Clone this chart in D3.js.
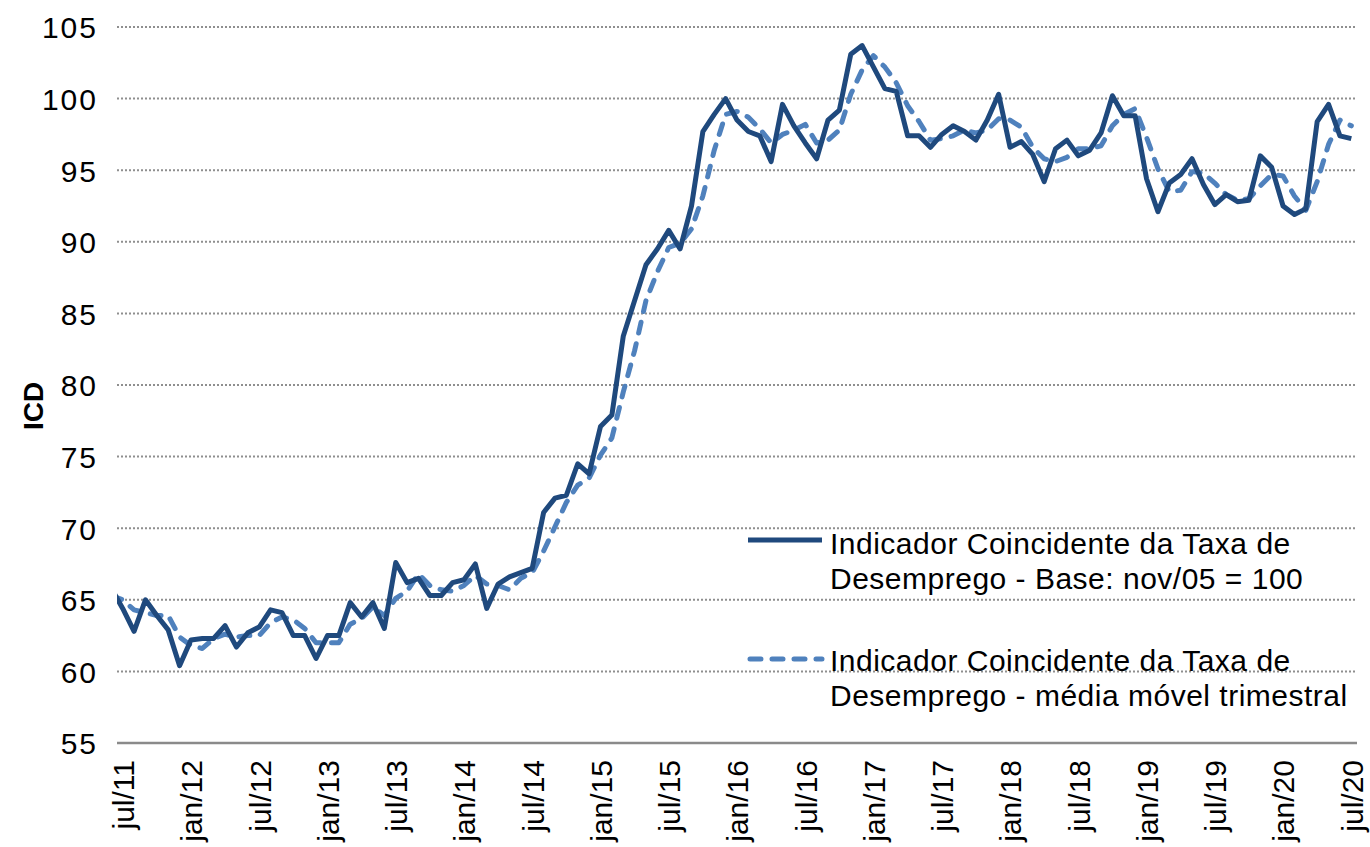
<!DOCTYPE html>
<html>
<head>
<meta charset="utf-8">
<script src="https://cdn.jsdelivr.net/npm/d3@7"></script>
<style>
	body { margin: 0; background: #ffffff; }
	svg { display: block; }
</style>
</head>
<body>
<svg id="chart" width="1370" height="847"></svg>
<script>
// monthly values, first entry is jun/11 (only a clipped stub of it shows at the left edge)
var icd = [
	65.8,
	64.4, 62.8, 65.0, 63.9, 62.9, 60.4, 62.2, 62.3, 62.3, 63.2, 61.7, 62.7,
	63.1, 64.3, 64.1, 62.5, 62.5, 60.9, 62.5, 62.5, 64.8, 63.8, 64.8, 63.0,
	67.6, 66.2, 66.5, 65.3, 65.3, 66.2, 66.4, 67.5, 64.4, 66.1, 66.6, 66.9,
	67.2, 71.1, 72.1, 72.3, 74.5, 73.8, 77.1, 77.9, 83.4, 85.9, 88.4, 89.5,
	90.8, 89.5, 92.5, 97.7, 98.9, 100.0, 98.5, 97.7, 97.4, 95.6, 99.6, 98.1,
	96.9, 95.8, 98.5, 99.2, 103.1, 103.7, 102.2, 100.7, 100.5, 97.4, 97.4, 96.6,
	97.5, 98.1, 97.7, 97.1, 98.5, 100.3, 96.6, 97.0, 96.1, 94.2, 96.5, 97.1,
	96.0, 96.4, 97.6, 100.2, 98.8, 98.8, 94.4, 92.1, 94.1, 94.7, 95.8, 94.0,
	92.6, 93.3, 92.8, 92.9, 96.0, 95.2, 92.5, 91.9, 92.3, 98.4, 99.6, 97.4,
	97.2
];

var icdMedia = [
	65.3,
	65.0, 64.3, 64.1, 63.9, 63.9, 62.4, 61.8, 61.6, 62.3, 62.6, 62.4, 62.5,
	62.5, 63.4, 63.8, 63.6, 63.0, 62.0, 62.0, 62.0, 63.3, 63.7, 64.5, 63.9,
	65.1, 65.6, 66.8, 66.0, 65.7, 65.6, 66.0, 66.7, 66.1, 66.0, 65.7, 66.5,
	66.9, 68.4, 70.1, 71.8, 73.0, 73.5, 75.1, 76.3, 79.5, 82.4, 85.9, 87.9,
	89.6, 89.9, 90.9, 93.2, 96.4, 98.9, 99.1, 98.7, 97.9, 96.9, 97.5, 97.8,
	98.2, 96.9, 97.1, 97.8, 100.3, 102.0, 103.0, 102.2, 101.1, 99.5, 98.4, 97.1,
	97.2, 97.4, 97.8, 97.6, 97.8, 98.6, 98.5, 98.0, 96.6, 95.8, 95.6, 95.9,
	96.5, 96.5, 96.7, 98.1, 98.9, 99.3, 97.3, 95.1, 93.5, 93.6, 94.9, 94.8,
	94.1, 93.3, 92.9, 93.0, 93.9, 94.7, 94.6, 93.2, 92.2, 94.2, 96.8, 98.5,
	98.1
];

var xTickLabels = ["jul/11", "jan/12", "jul/12", "jan/13", "jul/13", "jan/14", "jul/14",
	"jan/15", "jul/15", "jan/16", "jul/16", "jan/17", "jul/17", "jan/18", "jul/18",
	"jan/19", "jul/19", "jan/20", "jul/20"];
var yTicks = [55, 60, 65, 70, 75, 80, 85, 90, 95, 100, 105];

var legendSolid = ["Indicador Coincidente da Taxa de", "Desemprego - Base: nov/05 = 100"];
var legendDashed = ["Indicador Coincidente da Taxa de", "Desemprego - média móvel trimestral"];

var COLOR_SOLID = "#1f497d";
var COLOR_DASHED = "#4f81bd";
var FONT = "Liberation Sans, Arial, sans-serif";

var svg = d3.select("#chart");
var plotLeft = 117, plotRight = 1357, plotTop = 27, plotBottom = 743;

// index 0 = jul/11, -1 = jun/11
var x = d3.scaleLinear().domain([-0.5, 108.5]).range([plotLeft, plotRight]);
var y = d3.scaleLinear().domain([55, 105]).range([plotBottom, plotTop]);

// gridlines
svg.append("g")
	.selectAll("line")
	.data(yTicks.filter(function(d) { return d > 55; }))
	.enter().append("line")
	.attr("x1", plotLeft)
	.attr("x2", plotRight)
	.attr("y1", function(d) { return y(d); })
	.attr("y2", function(d) { return y(d); })
	.attr("stroke", "#8f8f8f")
	.attr("stroke-width", 2)
	.attr("stroke-dasharray", "2,2");

svg.append("line")
	.attr("x1", plotLeft)
	.attr("x2", plotRight)
	.attr("y1", y(55))
	.attr("y2", y(55))
	.attr("stroke", "#8a8a8a")
	.attr("stroke-width", 2.5);

// y axis labels
var yAxis = d3.axisLeft(y).tickValues(yTicks).tickSize(0).tickPadding(0);
var yAxisG = svg.append("g")
	.attr("transform", "translate(98,0)")
	.call(yAxis);
yAxisG.select(".domain").remove();
yAxisG.selectAll("text")
	.attr("font-family", FONT)
	.attr("font-size", "30px")
	.attr("letter-spacing", "2px")
	.attr("fill", "#000000")
	.attr("dy", "0.36em");

// x axis labels, rotated
var xAxis = d3.axisBottom(x)
	.tickValues(d3.range(0, 109, 6))
	.tickFormat(function(d, i) { return xTickLabels[i]; })
	.tickSize(0);
var xAxisG = svg.append("g")
	.attr("transform", "translate(0," + (plotBottom + 17) + ")")
	.call(xAxis);
xAxisG.select(".domain").remove();
xAxisG.selectAll("text")
	.attr("font-family", FONT)
	.attr("font-size", "30px")
	.attr("fill", "#000000")
	.attr("text-anchor", "end")
	.attr("x", 0)
	.attr("y", 0)
	.attr("dy", "0.36em")
	.attr("transform", "rotate(-90)");

// axis title
svg.append("text")
	.attr("font-family", FONT)
	.attr("font-size", "28px")
	.attr("font-weight", "bold")
	.attr("text-anchor", "middle")
	.attr("transform", "translate(43,406)rotate(-90)")
	.text("ICD");

// series
svg.append("clipPath")
	.attr("id", "plotClip")
	.append("rect")
	.attr("x", plotLeft)
	.attr("y", 0)
	.attr("width", plotRight - plotLeft + 10)
	.attr("height", plotBottom);

var line = d3.line()
	.x(function(d, i) { return x(i - 1); })
	.y(function(d) { return y(d); });

var series = svg.append("g").attr("clip-path", "url(#plotClip)");

series.append("path")
	.datum(icdMedia)
	.attr("d", line)
	.attr("fill", "none")
	.attr("stroke", COLOR_DASHED)
	.attr("stroke-width", 5)
	.attr("stroke-linecap", "round")
	.attr("stroke-linejoin", "round")
	.attr("stroke-dasharray", "11,11");

series.append("path")
	.datum(icd)
	.attr("d", line)
	.attr("fill", "none")
	.attr("stroke", COLOR_SOLID)
	.attr("stroke-width", 5)
	.attr("stroke-linejoin", "round");

// legend
var legend = svg.append("g");

legend.append("line")
	.attr("x1", 748).attr("x2", 822)
	.attr("y1", 540).attr("y2", 540)
	.attr("stroke", COLOR_SOLID)
	.attr("stroke-width", 5);

legend.append("line")
	.attr("x1", 750).attr("x2", 822)
	.attr("y1", 659).attr("y2", 659)
	.attr("stroke", COLOR_DASHED)
	.attr("stroke-width", 5)
	.attr("stroke-linecap", "round")
	.attr("stroke-dasharray", "11,11");

legend.selectAll("text.solid")
	.data(legendSolid)
	.enter().append("text")
	.attr("class", "solid")
	.attr("font-family", FONT)
	.attr("font-size", "30px")
	.attr("letter-spacing", "0.5px")
	.attr("x", 830)
	.attr("y", function(d, i) { return 554 + i * 35; })
	.text(function(d) { return d; });

legend.selectAll("text.dashed")
	.data(legendDashed)
	.enter().append("text")
	.attr("class", "dashed")
	.attr("font-family", FONT)
	.attr("font-size", "30px")
	.attr("letter-spacing", "0.5px")
	.attr("x", 830)
	.attr("y", function(d, i) { return 671 + i * 35; })
	.text(function(d) { return d; });
</script>
</body>
</html>
